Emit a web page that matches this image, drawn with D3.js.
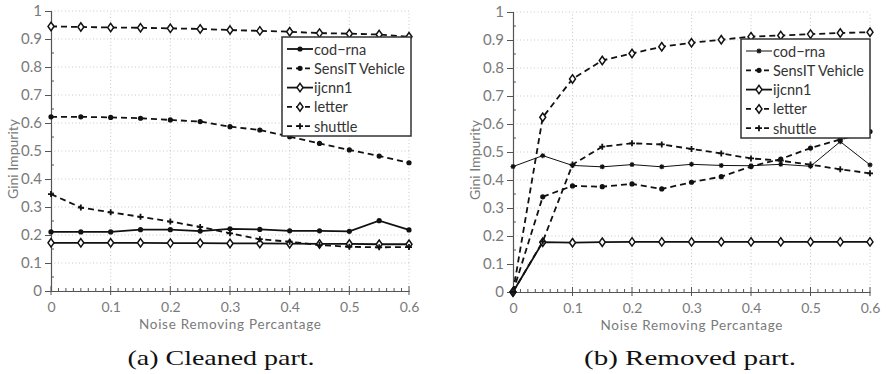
<!DOCTYPE html>
<html>
<head>
<meta charset="utf-8">
<script src="https://cdn.jsdelivr.net/npm/d3@7"></script>
<style>
  body { margin: 0; background: #fff; }
  svg { display: block; }
</style>
</head>
<body>
<svg id="chart" width="887" height="374"></svg>
<script>
// noise removing percentage
const xs = [0, 0.05, 0.1, 0.15, 0.2, 0.25, 0.3, 0.35, 0.4, 0.45, 0.5, 0.55, 0.6];
const xTicks = [0, 0.1, 0.2, 0.3, 0.4, 0.5, 0.6];
const yTicks = [0, 0.1, 0.2, 0.3, 0.4, 0.5, 0.6, 0.7, 0.8, 0.9, 1];
const seriesNames = ["cod\u2212rna", "SensIT Vehicle", "ijcnn1", "letter", "shuttle"];

// (a) cleaned part
const cleanedCodRna = [0.211, 0.211, 0.211, 0.219, 0.219, 0.214, 0.222, 0.22, 0.215, 0.215, 0.213, 0.251, 0.218];
const cleanedSensIT = [0.622, 0.622, 0.62, 0.617, 0.611, 0.605, 0.587, 0.575, 0.551, 0.527, 0.504, 0.482, 0.458];
const cleanedIjcnn1 = [0.172, 0.172, 0.172, 0.172, 0.171, 0.171, 0.17, 0.17, 0.169, 0.168, 0.168, 0.167, 0.167];
const cleanedLetter = [0.945, 0.943, 0.941, 0.94, 0.938, 0.936, 0.932, 0.929, 0.926, 0.921, 0.919, 0.916, 0.908];
const cleanedShuttle = [0.346, 0.298, 0.281, 0.265, 0.248, 0.229, 0.206, 0.185, 0.176, 0.164, 0.158, 0.156, 0.157];

// (b) removed part
const removedCodRna = [0.448, 0.487, 0.452, 0.447, 0.455, 0.447, 0.456, 0.452, 0.451, 0.456, 0.449, 0.537, 0.454];
const removedSensIT = [0, 0.34, 0.379, 0.376, 0.386, 0.368, 0.392, 0.412, 0.448, 0.475, 0.514, 0.545, 0.573];
const removedIjcnn1 = [0, 0.178, 0.176, 0.178, 0.179, 0.179, 0.179, 0.179, 0.179, 0.179, 0.179, 0.179, 0.179];
const removedLetter = [0, 0.624, 0.761, 0.827, 0.852, 0.876, 0.89, 0.901, 0.912, 0.916, 0.921, 0.925, 0.928];
const removedShuttle = [0, 0.18, 0.455, 0.519, 0.531, 0.527, 0.511, 0.495, 0.477, 0.469, 0.455, 0.438, 0.424];

const svg = d3.select("#chart");
const labelFont = "Lato, 'Liberation Sans', sans-serif";
const gray = "#7a7a7a";

function marker(sel, type) {
  if (type === "circle") {
    sel.append("circle").attr("r", 2.6).attr("fill", "#111");
  } else if (type === "diamond") {
    sel.append("path").attr("d", "M0,-4.2L3,0L0,4.2L-3,0Z")
      .attr("fill", "#fff").attr("stroke", "#111").attr("stroke-width", 1.5);
  } else if (type === "plus") {
    sel.append("path").attr("d", "M-3,0H3M0,-3V3")
      .attr("stroke", "#111").attr("stroke-width", 1.8);
  } else if (type === "star") {
    sel.append("path").attr("d", "M-2.5,0H2.5M0,-2.5V2.5M-1.8,-1.8L1.8,1.8M-1.8,1.8L1.8,-1.8")
      .attr("stroke", "#111").attr("stroke-width", 1.2);
  }
}

function drawPanel(opt) {
  const x = d3.scaleLinear().domain([0, 0.6]).range([opt.left, opt.right]);
  const y = d3.scaleLinear().domain([0, 1]).range([opt.bottom, opt.top]);
  const g = svg.append("g");

  // dotted grid
  g.append("g").selectAll("line.vx").data(xTicks.slice(1)).join("line")
    .attr("x1", d => x(d)).attr("x2", d => x(d))
    .attr("y1", opt.bottom).attr("y2", opt.top)
    .attr("stroke", "#bbb").attr("stroke-width", 0.8).attr("stroke-dasharray", "1,2.5");
  g.append("g").selectAll("line.hy").data(yTicks.slice(1)).join("line")
    .attr("x1", opt.left).attr("x2", opt.right)
    .attr("y1", d => y(d)).attr("y2", d => y(d))
    .attr("stroke", "#bbb").attr("stroke-width", 0.8).attr("stroke-dasharray", "1,2.5");

  // x axis
  const xAxis = g.append("g").attr("transform", `translate(0,${opt.bottom})`)
    .call(d3.axisBottom(x).tickValues(xTicks).tickSize(0).tickPadding(11).tickFormat(d3.format("")));
  xAxis.select(".domain").attr("stroke", "#555").attr("stroke-width", 1.2);
  xAxis.selectAll("text").attr("fill", gray).attr("font-size", 14).attr("font-family", labelFont);
  xAxis.selectAll(".tick line").remove();
  g.append("g").selectAll("line").data(d3.range(0, 49)).join("line")
    .attr("x1", i => x(i * 0.0125)).attr("x2", i => x(i * 0.0125))
    .attr("y1", i => opt.bottom + (i % 8 === 0 ? 4 : 0)).attr("y2", i => opt.bottom - (i % 8 === 0 ? 5 : 3))
    .attr("stroke", "#555").attr("stroke-width", 1);

  // y axis
  const yAxis = g.append("g").attr("transform", `translate(${opt.left},0)`)
    .call(d3.axisLeft(y).tickValues(yTicks).tickSize(6).tickPadding(3).tickFormat(d3.format("")));
  yAxis.select(".domain").attr("stroke", "#555").attr("stroke-width", 1.2);
  yAxis.selectAll(".tick line").attr("stroke", "#555");
  yAxis.selectAll("text").attr("fill", gray).attr("font-size", 15).attr("font-family", labelFont);
  g.append("g").selectAll("line").data(d3.range(0.05, 1, 0.1)).join("line")
    .attr("x1", opt.left).attr("x2", opt.left + 3)
    .attr("y1", d => y(d)).attr("y2", d => y(d))
    .attr("stroke", "#555").attr("stroke-width", 1);

  // axis titles
  g.append("text").attr("x", (opt.left + opt.right) / 2).attr("y", opt.bottom + 38)
    .attr("text-anchor", "middle").attr("fill", gray).attr("font-size", 13.5).attr("font-family", labelFont)
    .attr("textLength", 182).attr("lengthAdjust", "spacing")
    .text("Noise Removing Percantage");
  g.append("text").attr("transform", `translate(${opt.left - 33},${(opt.top + opt.bottom) / 2 + 8}) rotate(-90)`)
    .attr("text-anchor", "middle").attr("fill", gray).attr("font-size", 14).attr("font-family", labelFont)
    .text("Gini Impurity");

  // lines
  const line = d3.line().x((d, i) => x(xs[i])).y(d => y(d));
  opt.series.forEach(s => {
    g.append("path").datum(s.values).attr("d", line)
      .attr("fill", "none").attr("stroke", "#111").attr("stroke-width", s.width)
      .attr("stroke-dasharray", s.dash ? "6,4" : null);
  });
  opt.series.forEach(s => {
    g.append("g").selectAll("g").data(s.values).join("g")
      .attr("transform", (d, i) => `translate(${x(xs[i])},${y(d)})`)
      .each(function () { marker(d3.select(this), s.marker); });
  });

  // legend
  const lg = g.append("g").attr("transform", `translate(${opt.legendX},${opt.legendY})`);
  lg.append("rect").attr("width", 129).attr("height", 99)
    .attr("fill", "#fff").attr("stroke", "#333").attr("stroke-width", 1.5);
  opt.series.forEach((s, i) => {
    const ly = 12 + i * 19.3;
    lg.append("line").attr("x1", 5).attr("x2", 31).attr("y1", ly).attr("y2", ly)
      .attr("stroke", "#111").attr("stroke-width", s.width)
      .attr("stroke-dasharray", s.dash ? "5,4" : null);
    const m = lg.append("g").attr("transform", `translate(18,${ly})`);
    marker(m, s.marker);
    lg.append("text").attr("x", 32).attr("y", ly + 5.5)
      .attr("fill", "#333").attr("font-size", 14.5).attr("font-family", labelFont)
      .text(seriesNames[i]);
  });

  // caption
  svg.append("text").attr("x", opt.captionX).attr("y", 365)
    .attr("text-anchor", "middle").attr("font-size", 22)
    .attr("font-family", "'Liberation Serif', 'DejaVu Serif', serif")
    .attr("textLength", opt.captionW).attr("lengthAdjust", "spacingAndGlyphs")
    .attr("fill", "#111")
    .text(opt.caption);
}

drawPanel({
  left: 51, right: 409, top: 11, bottom: 291,
  legendX: 282, legendY: 37,
  captionX: 221, captionW: 187, caption: "(a) Cleaned part.",
  series: [
    { values: cleanedCodRna, marker: "circle", dash: false, width: 1.8 },
    { values: cleanedSensIT, marker: "circle", dash: true, width: 1.8 },
    { values: cleanedIjcnn1, marker: "diamond", dash: false, width: 1.8 },
    { values: cleanedLetter, marker: "diamond", dash: true, width: 1.8 },
    { values: cleanedShuttle, marker: "plus", dash: true, width: 1.8 }
  ]
});

drawPanel({
  left: 513, right: 870, top: 12, bottom: 292,
  legendX: 741, legendY: 39,
  captionX: 690, captionW: 212, caption: "(b) Removed part.",
  series: [
    { values: removedCodRna, marker: "star", dash: false, width: 1 },
    { values: removedSensIT, marker: "circle", dash: true, width: 1.8 },
    { values: removedIjcnn1, marker: "diamond", dash: false, width: 1.8 },
    { values: removedLetter, marker: "diamond", dash: true, width: 1.8 },
    { values: removedShuttle, marker: "plus", dash: true, width: 1.8 }
  ]
});
</script>
</body>
</html>
